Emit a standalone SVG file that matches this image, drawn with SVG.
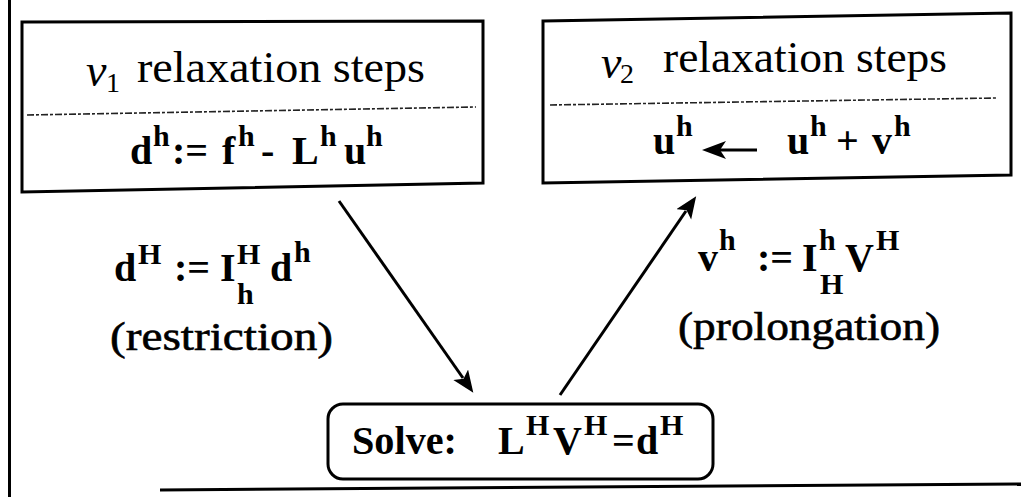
<svg xmlns="http://www.w3.org/2000/svg" width="1021" height="497" viewBox="0 0 1021 497">
<style>
.frame{fill:none;stroke:#000;stroke-width:3}
.box{fill:none;stroke:#000;stroke-width:3}
.dash{fill:none;stroke:#222;stroke-width:1.6;stroke-dasharray:7 2 3 2}
.conn{fill:none;stroke:#000;stroke-width:3}
text{font-family:"Liberation Serif","DejaVu Serif","Times New Roman",serif;fill:#000}
.t{font-size:44px}
.nu{font-style:italic;font-size:46px}
.sb{font-size:28px}
.m{font-weight:bold;font-size:40px}
.s{font-weight:bold;font-size:30px}
.lab{font-size:40px;stroke:#000;stroke-width:0.6}
</style>
<defs>
<marker id="ah" markerUnits="userSpaceOnUse" markerWidth="24" markerHeight="20" refX="4" refY="9" orient="auto" viewBox="0 0 24 20">
<path d="M0,0 L22,9 L0,18 L5,9 z" fill="#000"/>
</marker>
</defs>
<rect width="1021" height="497" fill="#fff"/>
<g id="frame">
<line class="frame" x1="9.5" y1="0" x2="9.5" y2="497"/>
<line class="frame" x1="160" y1="490" x2="1021" y2="484"/>
</g>
<g id="pre-smoothing">
<polygon class="box" points="22,22 483,21 483,183 22,192"/>
<line class="dash" x1="27" y1="115" x2="476" y2="107"/>
<text class="nu" x="86" y="86">ν</text>
<text class="sb" x="106" y="92">1</text>
<text class="t" x="137" y="82" textLength="288" lengthAdjust="spacingAndGlyphs">relaxation steps</text>
<text class="m" x="130" y="164">d</text>
<text class="s" x="153" y="146">h</text>
<text class="m" x="172" y="164">:=</text>
<text class="m" x="222" y="164">f</text>
<text class="s" x="238" y="146">h</text>
<text class="m" x="261" y="164">-</text>
<text class="m" x="292" y="164">L</text>
<text class="s" x="320" y="146">h</text>
<text class="m" x="344" y="164">u</text>
<text class="s" x="366" y="146">h</text>
</g>
<g id="post-smoothing">
<polygon class="box" points="543,21 1011,13 1011,175 543,183"/>
<line class="dash" x1="550" y1="105" x2="996" y2="98"/>
<text class="nu" x="601" y="78">ν</text>
<text class="sb" x="620" y="83">2</text>
<text class="t" x="663" y="72" textLength="284" lengthAdjust="spacingAndGlyphs">relaxation steps</text>
<text class="m" x="653" y="154">u</text>
<text class="s" x="676" y="136">h</text>
<line x1="757" y1="150" x2="718" y2="150" stroke="#000" stroke-width="3"/>
<path d="M702,150 L726,141 L720,150 L726,159 z" fill="#000"/>
<text class="m" x="787" y="154">u</text>
<text class="s" x="810" y="136">h</text>
<text class="m" x="836" y="154">+</text>
<text class="m" x="872" y="154">v</text>
<text class="s" x="894" y="136">h</text>
</g>
<g id="restriction">
<text class="m" x="114" y="281">d</text>
<text class="s" x="138" y="264">H</text>
<text class="m" x="174" y="281">:=</text>
<text class="m" x="220" y="281">I</text>
<text class="s" x="237" y="264">H</text>
<text class="s" x="237" y="304">h</text>
<text class="m" x="270" y="281">d</text>
<text class="s" x="294" y="262">h</text>
<text class="lab" x="110" y="350" textLength="223" lengthAdjust="spacingAndGlyphs">(restriction)</text>
</g>
<g id="prolongation">
<text class="m" x="698" y="271">v</text>
<text class="s" x="719" y="250">h</text>
<text class="m" x="757" y="271">:=</text>
<text class="m" x="802" y="271">I</text>
<text class="s" x="819" y="250">h</text>
<text class="s" x="820" y="294">H</text>
<text class="m" x="845" y="271">V</text>
<text class="s" x="876" y="250">H</text>
<text class="lab" x="678" y="340" textLength="262" lengthAdjust="spacingAndGlyphs">(prolongation)</text>
</g>
<g id="solve">
<rect class="box" x="328" y="404" width="385" height="75" rx="15"/>
<text class="m" x="352" y="454" textLength="105" lengthAdjust="spacingAndGlyphs">Solve:</text>
<text class="m" x="498" y="454">L</text>
<text class="s" x="526" y="435">H</text>
<text class="m" x="553" y="454">V</text>
<text class="s" x="584" y="435">H</text>
<text class="m" x="612" y="454">=</text>
<text class="m" x="636" y="454">d</text>
<text class="s" x="660" y="435">H</text>
</g>
<g id="connectors">
<line class="conn" x1="339" y1="201" x2="463" y2="378" marker-end="url(#ah)"/>
<line class="conn" x1="560" y1="395" x2="686" y2="211" marker-end="url(#ah)"/>
</g>
</svg>
